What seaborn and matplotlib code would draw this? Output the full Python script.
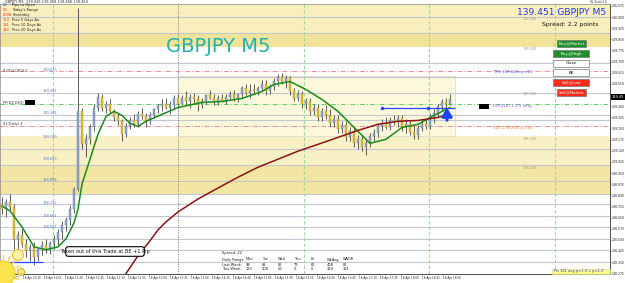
import numpy as np
import pandas as pd
import matplotlib
matplotlib.use("Agg")
import matplotlib.pyplot as plt
import seaborn as sns
from matplotlib.patches import Rectangle, FancyBboxPatch, Circle

sns.set_theme(style="white")
plt.rcParams["font.family"] = ["DejaVu Sans"]

# ---------------- data ----------------
opens = [138.742, 138.708, 138.755, 138.721, 138.507, 138.534, 138.474, 138.427, 138.453, 138.387,
         138.440, 138.467, 138.440, 138.480, 138.507, 138.554, 138.601, 138.634, 138.708, 138.842,
         139.365, 139.143, 139.177, 139.257, 139.391, 139.465, 139.391, 139.412, 139.365, 139.324,
         139.298, 139.211, 139.264, 139.304, 139.278, 139.345, 139.331, 139.298, 139.338, 139.378,
         139.398, 139.418, 139.391, 139.405, 139.452, 139.418, 139.458, 139.438, 139.465, 139.445,
         139.405, 139.438, 139.472, 139.458, 139.425, 139.452, 139.438, 139.465, 139.485, 139.452,
         139.479, 139.525, 139.492, 139.512, 139.499, 139.525, 139.552, 139.499, 139.539, 139.572,
         139.599, 139.566, 139.592, 139.499, 139.458, 139.485, 139.418, 139.438, 139.365, 139.391,
         139.324, 139.365, 139.338, 139.284, 139.311, 139.244, 139.271, 139.190, 139.231, 139.150,
         139.177, 139.123, 139.150, 139.197, 139.217, 139.264, 139.284, 139.257, 139.304, 139.291,
         139.318, 139.257, 139.278, 139.224, 139.204, 139.251, 139.278, 139.264, 139.324, 139.351,
         139.398, 139.425, 139.418]
highs = [138.788, 138.775, 138.809, 138.742, 138.561, 138.574, 138.507, 138.474, 138.487, 138.453,
         138.494, 138.507, 138.494, 138.534, 138.574, 138.628, 138.654, 138.735, 138.855, 140.061,
         139.391, 139.211, 139.278, 139.412, 139.492, 139.479, 139.432, 139.445, 139.378, 139.351,
         139.311, 139.284, 139.324, 139.345, 139.365, 139.391, 139.351, 139.358, 139.391, 139.418,
         139.445, 139.458, 139.432, 139.472, 139.479, 139.472, 139.499, 139.479, 139.492, 139.472,
         139.458, 139.485, 139.512, 139.485, 139.472, 139.485, 139.479, 139.505, 139.512, 139.492,
         139.539, 139.552, 139.546, 139.552, 139.539, 139.579, 139.579, 139.552, 139.592, 139.619,
         139.626, 139.612, 139.606, 139.525, 139.512, 139.499, 139.458, 139.458, 139.418, 139.418,
         139.391, 139.405, 139.378, 139.338, 139.338, 139.298, 139.298, 139.257, 139.257, 139.204,
         139.204, 139.177, 139.217, 139.244, 139.284, 139.311, 139.324, 139.324, 139.338, 139.338,
         139.338, 139.311, 139.298, 139.271, 139.271, 139.298, 139.311, 139.351, 139.378, 139.418,
         139.445, 139.458, 139.479]
lows = [138.675, 138.654, 138.695, 138.440, 138.440, 138.453, 138.387, 138.360, 138.333, 138.360,
        138.400, 138.413, 138.407, 138.440, 138.467, 138.507, 138.561, 138.601, 138.681, 138.829,
        139.110, 139.056, 139.143, 139.231, 139.365, 139.365, 139.351, 139.351, 139.298, 139.271,
        139.164, 139.190, 139.244, 139.257, 139.257, 139.311, 139.257, 139.278, 139.318, 139.351,
        139.365, 139.378, 139.345, 139.378, 139.391, 139.405, 139.418, 139.391, 139.418, 139.365,
        139.391, 139.418, 139.445, 139.405, 139.405, 139.425, 139.418, 139.445, 139.432, 139.425,
        139.458, 139.472, 139.458, 139.479, 139.472, 139.499, 139.472, 139.479, 139.512, 139.539,
        139.546, 139.525, 139.472, 139.432, 139.432, 139.391, 139.378, 139.338, 139.338, 139.298,
        139.298, 139.311, 139.257, 139.257, 139.217, 139.217, 139.164, 139.164, 139.123, 139.110,
        139.097, 139.070, 139.123, 139.164, 139.190, 139.231, 139.244, 139.237, 139.271, 139.257,
        139.231, 139.217, 139.204, 139.177, 139.177, 139.231, 139.244, 139.244, 139.284, 139.324,
        139.365, 139.378, 139.405]
closes = [138.708, 138.755, 138.721, 138.507, 138.534, 138.474, 138.427, 138.453, 138.387, 138.440,
          138.467, 138.440, 138.480, 138.507, 138.554, 138.601, 138.634, 138.708, 138.842, 139.365,
          139.143, 139.177, 139.257, 139.391, 139.465, 139.391, 139.412, 139.365, 139.324, 139.298,
          139.211, 139.264, 139.304, 139.278, 139.345, 139.331, 139.298, 139.338, 139.378, 139.398,
          139.418, 139.391, 139.405, 139.452, 139.418, 139.458, 139.438, 139.465, 139.445, 139.405,
          139.438, 139.472, 139.458, 139.425, 139.452, 139.438, 139.465, 139.485, 139.452, 139.479,
          139.525, 139.492, 139.512, 139.499, 139.525, 139.552, 139.499, 139.539, 139.572, 139.599,
          139.566, 139.592, 139.499, 139.458, 139.485, 139.418, 139.438, 139.365, 139.391, 139.324,
          139.365, 139.338, 139.284, 139.311, 139.244, 139.271, 139.190, 139.231, 139.150, 139.177,
          139.123, 139.150, 139.197, 139.217, 139.264, 139.284, 139.257, 139.304, 139.291, 139.318,
          139.257, 139.278, 139.224, 139.204, 139.251, 139.278, 139.264, 139.324, 139.351, 139.398,
          139.425, 139.418, 139.451]

fast_ma_bar = [0, 2, 5, 8, 11, 14, 16, 18, 19, 20, 22, 24, 26, 28, 30, 32, 34, 36, 40, 44,
               50, 55, 60, 65, 68, 72, 76, 80, 84, 88, 92, 96, 100, 104, 108, 112]
fast_ma = [138.728, 138.695, 138.587, 138.453, 138.433, 138.453, 138.507, 138.614, 138.708, 138.876,
           139.043, 139.211, 139.331, 139.365, 139.338, 139.284, 139.264, 139.298, 139.345, 139.391,
           139.425, 139.432, 139.452, 139.499, 139.546, 139.566, 139.512, 139.445, 139.365, 139.257,
           139.150, 139.177, 139.257, 139.278, 139.338, 139.391]
slow_ma_bar = [29, 31, 34, 37, 39, 41, 44, 49, 54, 59, 64, 69, 74, 79, 84, 89, 94, 99, 104, 109, 112]
slow_ma = [138.172, 138.273, 138.393, 138.494, 138.567, 138.621, 138.688, 138.775, 138.849, 138.922,
           138.989, 139.043, 139.097, 139.143, 139.190, 139.237, 139.278, 139.298, 139.304, 139.324,
           139.345]

price_ticks = [140.075, 140.000, 139.925, 139.850, 139.775, 139.700, 139.625, 139.550, 139.475,
               139.400, 139.325, 139.250, 139.175, 139.100, 139.025, 138.950, 138.875, 138.800,
               138.725, 138.650, 138.575, 138.500, 138.425, 138.350, 138.275]
current_price = 139.451

time_labels = ["17 Apr 2017", "18 Apr 10:30", "18 Apr 10:55", "18 Apr 11:20", "18 Apr 11:45",
               "18 Apr 12:10", "18 Apr 12:35", "18 Apr 13:00", "18 Apr 13:25", "18 Apr 13:50",
               "18 Apr 14:15", "18 Apr 14:40", "18 Apr 15:05", "18 Apr 15:30", "18 Apr 15:55",
               "18 Apr 16:20", "18 Apr 16:45", "18 Apr 17:10", "18 Apr 17:35", "18 Apr 18:00",
               "18 Apr 18:25", "18 Apr 18:50"]

level_prices = [140.001, 139.894, 139.693, 139.599, 139.492, 139.338, 139.304, 139.110, 139.003,
                138.896, 138.809, 138.742, 138.661, 138.587, 138.507, 138.433, 138.353]
left_level_labels = [139.633, 139.492, 139.345, 139.190, 139.043, 138.896, 138.742, 138.661, 138.587]
round_levels = [140.000, 139.800, 139.500, 139.200, 139.000]

r2_level = 139.639
pp_level = 139.418
s1_level = 139.264
trade_level = 139.385
day_separators = [12.75, 75.5, 106.75, 138.25]
session_line = 44

info_nums = ["20", "53", "2008", "150", "131", "123"]
info_text = ["Pips to Open", "Today's Range", "Yesterday", "Prev 5 Days Av", "Prev 10 Days Av",
             "Prev 20 Days Av"]
stats_header = ["Daily Range", "Mon", "Tue", "Wed", "Thu", "Fri", "WkAvg", "WADR"]
stats_last = ["Last Week:", "98", "88", "82", "79", "61", "408", "82"]
stats_this = ["This Week:", "133", "208", "53", "0", "0", "394", "131"]

# ---------------- figure ----------------
W, H = 625, 283
fig = plt.figure(figsize=(W / 100, H / 100), dpi=100)
fig.patch.set_facecolor("white")
ax = fig.add_axes([0, 9 / H, 610 / W, 270 / H])
ax.set_facecolor("white")
XMIN, XMAX = -0.5, 152
YMIN, YMAX = 138.27, 140.088
ax.set_xlim(XMIN, XMAX)
ax.set_ylim(YMIN, YMAX)

# bands
ax.axhspan(139.800, YMAX, color="#f8efbd", zorder=0, lw=0)
ax.axhspan(139.800, 139.894, color="#f2e39a", zorder=0, lw=0)
ax.axhspan(138.809, 139.197, color="#f9f1c6", zorder=0, lw=0)
ax.axhspan(138.809, 139.003, color="#f3e5a2", zorder=0, lw=0)
ax.add_patch(Rectangle((44, 139.197), 113.25 - 44, 139.606 - 139.197, facecolor="#fcf8dc",
                       edgecolor="#d8d8c8", lw=0.5, zorder=0.5))

for lv in level_prices:
    ax.axhline(lv, color="#c3c7cf", lw=0.8, zorder=1)

ax.axhline(r2_level, color="#f08a9a", lw=0.7, ls=(0, (5, 2, 1, 2)), zorder=1.5)
ax.axhline(s1_level, color="#f08a9a", lw=0.7, ls=(0, (5, 2, 1, 2)), zorder=1.5)
ax.axhline(pp_level, color="#66cc66", lw=0.7, ls=(0, (5, 2, 1, 2)), zorder=1.5)

for sx in day_separators:
    ax.axvline(sx, color="#99dd99", lw=0.8, ls=(0, (3, 2)), zorder=1.5)
ax.axvline(session_line, color="#777777", lw=0.7, ls=(0, (1, 1.5)), zorder=1.5)

# candles
df = pd.DataFrame({"bar": np.arange(len(opens)), "open": opens, "high": highs,
                   "low": lows, "close": closes})
up = df["close"] >= df["open"]
body = (df["close"] - df["open"]).abs().clip(lower=0.004)
bottom = df[["open", "close"]].min(axis=1)
ax.vlines(df["bar"], df["low"], df["high"], color="#5a5a5a", lw=0.7, zorder=3)
ax.bar(df["bar"][up], body[up], bottom=bottom[up], width=0.62, color="#8ea6c8",
       edgecolor="#6a7f9f", lw=0.3, zorder=4)
ax.bar(df["bar"][~up], body[~up], bottom=bottom[~up], width=0.62, color="#e2bf2e",
       edgecolor="#b09020", lw=0.3, zorder=4)

# moving averages
sns.lineplot(x=fast_ma_bar, y=fast_ma, ax=ax, color="#1a8c1a", lw=1.1, zorder=5)
sns.lineplot(x=slow_ma_bar, y=slow_ma, ax=ax, color="#8b1414", lw=1.1, zorder=5)

# trade line & low line
ax.hlines(trade_level, 95, 113.3, color="#2a44ff", lw=0.9, zorder=5)
ax.plot([95, 106.5], [trade_level, trade_level], "o", color="#2a44ff", ms=1.5, zorder=5)
ax.hlines(138.353, 2, 10.2, color="#2a44ff", lw=0.9, zorder=5)

# axes styling
ax.yaxis.tick_right()
ax.set_yticks(price_ticks)
ax.set_yticklabels(["" if abs(p - current_price) < 0.04 else f"{p:.3f}" for p in price_ticks],
                   fontsize=2.25)
ax.set_xticks(np.arange(len(time_labels)) * 5.25)
ax.set_xticklabels(time_labels, fontsize=1.95, ha="left")
ax.tick_params(axis="both", length=1.0, width=0.4, pad=0.4, colors="#222222")
ax.tick_params(axis="y", right=True, left=False)
ax.tick_params(axis="x", bottom=True, pad=0.8)
for side in ["left", "top"]:
    ax.spines[side].set_color("#888888")
    ax.spines[side].set_linewidth(0.5)
for side in ["right", "bottom"]:
    ax.spines[side].set_color("#333333")
    ax.spines[side].set_linewidth(0.6)
ax.set_xlabel("")
ax.set_ylabel("")

# ---------------- overlay (pixel coordinates) ----------------
ov = fig.add_axes([0, 0, 1, 1], zorder=10)
ov.set_xlim(0, W)
ov.set_ylim(H, 0)
ov.axis("off")
ov.patch.set_alpha(0)

ov.text(5, 2.0, "GBPJPY,M5  139.426 139.458 139.406 139.454", fontsize=2.5, va="center", color="#222")
ov.text(590, 2.2, "HL Scale1.0", fontsize=2.1, va="center", color="#222")
info_cols = ["#1a3cff", "#ff2020", "#ff2020", "#ff4a1a", "#ff2020", "#ff2020"]
for k, (n, t) in enumerate(zip(info_nums, info_text)):
    y = 5.2 + 5.0 * k
    ov.text(3, y, n, fontsize=2.6, color=info_cols[k], va="center")
    ov.text(12, y, t, fontsize=2.6, color="#222", va="center")

ov.text(166, 47, "GBPJPY M5", fontsize=14, color="#22b2ad", va="center", ha="left")
ov.text(606, 12.5, "139.451 GBPJPY M5", fontsize=6.6, color="#2233ee", va="center", ha="right")
ov.text(542, 24.5, "Spread: 2.2 points", fontsize=4.4, color="#111", va="center", ha="left")

buttons = [("Buy@Market", 557, 40, 29, "#1f8f2a", "white"),
           ("Buy@High", 553, 50, 36, "#1f8f2a", "white"),
           ("Close", 553, 59.5, 36, "white", "#111"),
           ("BE", 553, 69, 36, "white", "#111"),
           ("Sell@Low", 553, 79, 36, "#ff2a1a", "white"),
           ("Sell@Market", 557, 89, 29, "#ff2a1a", "white")]
for lab, bx, by, bw, fc, tc in buttons:
    ov.add_patch(Rectangle((bx, by), bw, 7, facecolor=fc, edgecolor="#777777", lw=0.5))
    ov.text(bx + bw / 2, by + 3.6, lab, fontsize=3.0, color=tc, ha="center", va="center")

ov.text(493, 72.5, "TP1 139.626, p=21", fontsize=3.0, color="#2f5fff", va="center")
ov.text(493, 128, "SL1 139.266, p=15", fontsize=3.0, color="#ff7a22", va="center")
ov.add_patch(Rectangle((479, 103.5), 10, 5, facecolor="black", lw=0))
ov.text(492, 106.5, "139.416, 1:1.5 long", fontsize=3.0, color="#8c5ae0", va="center")

for p in round_levels:
    y = (140.115 - p) / 0.0067
    ov.text(523, y + 2, f"{p:.3f}", fontsize=2.4, color="#9a9a9a", va="center")
for p in left_level_labels:
    y = (140.115 - p) / 0.0067
    ov.text(43, y - 1.5, f"{p:.3f}", fontsize=2.5, color="#4a72c8", va="center")

ov.text(3, 70.5, "R2(D4 DR3) 5", fontsize=2.5, color="#333", va="center")
ov.text(3, 102.5, "PP(D4 DR3) 5-", fontsize=2.5, color="#333", va="center")
ov.add_patch(Rectangle((25, 100), 10, 5, facecolor="black", lw=0))
ov.text(3, 124, "S1(Daily) 4", fontsize=2.5, color="#333", va="center")

# current price box
ov.add_patch(Rectangle((610.5, 94), 14.5, 6, facecolor="black", lw=0))
ov.text(617.5, 97, "139.45", fontsize=2.6, color="white", ha="center", va="center")

# arrow
ov.annotate("", xy=(447, 105), xytext=(447, 123),
            arrowprops=dict(arrowstyle="-|>,head_width=0.25,head_length=0.4", color="#1a44ff", lw=2.2))

# taken-out box
ov.add_patch(FancyBboxPatch((66, 247), 78, 9, boxstyle="round,pad=0.3,rounding_size=2.5",
                            facecolor="white", edgecolor="black", lw=0.8))
ov.text(105, 251.5, "Taken out of this Trade at BE +1 Pip", fontsize=3.6, color="#111",
        ha="center", va="center")

# stats table
cols_x = [222, 246, 262, 278, 294, 311, 327, 343]
ov.text(222, 253, "Spread: 22", fontsize=2.6, color="#222", va="center")
for row, y in ((stats_header, 259.5), (stats_last, 264.5), (stats_this, 269.5)):
    for cx, s in zip(cols_x, row):
        ov.text(cx, y, s, fontsize=2.6, color="#222", va="center")

# bottom right box
ov.add_patch(Rectangle((552, 268.5), 58, 5.5, facecolor="#ffff8a", edgecolor="#d8d070", lw=0.4))
ov.text(554, 271.3, "Pic 161 avg p=1.3 = p=1.3", fontsize=2.6, color="#2233ee", va="center")

# sun decorations
for ang in np.linspace(0, 2 * np.pi, 16, endpoint=False):
    ov.plot([3 + 12 * np.cos(ang), 3 + 18 * np.cos(ang)],
            [273 + 12 * np.sin(ang), 273 + 18 * np.sin(ang)], color="#f5d84a", lw=1.0)
ov.add_patch(Circle((3, 273), 12, facecolor="#ffe54d", edgecolor="#f0c020", lw=0.6))
ov.add_patch(Circle((18, 255), 5.5, facecolor="#fff3a8", edgecolor="#e8c030", lw=0.8))
ov.add_patch(Circle((21, 272), 3.5, facecolor="#ffe680", edgecolor="#c8a000", lw=0.6))

fig.savefig("out.png", dpi=100)
